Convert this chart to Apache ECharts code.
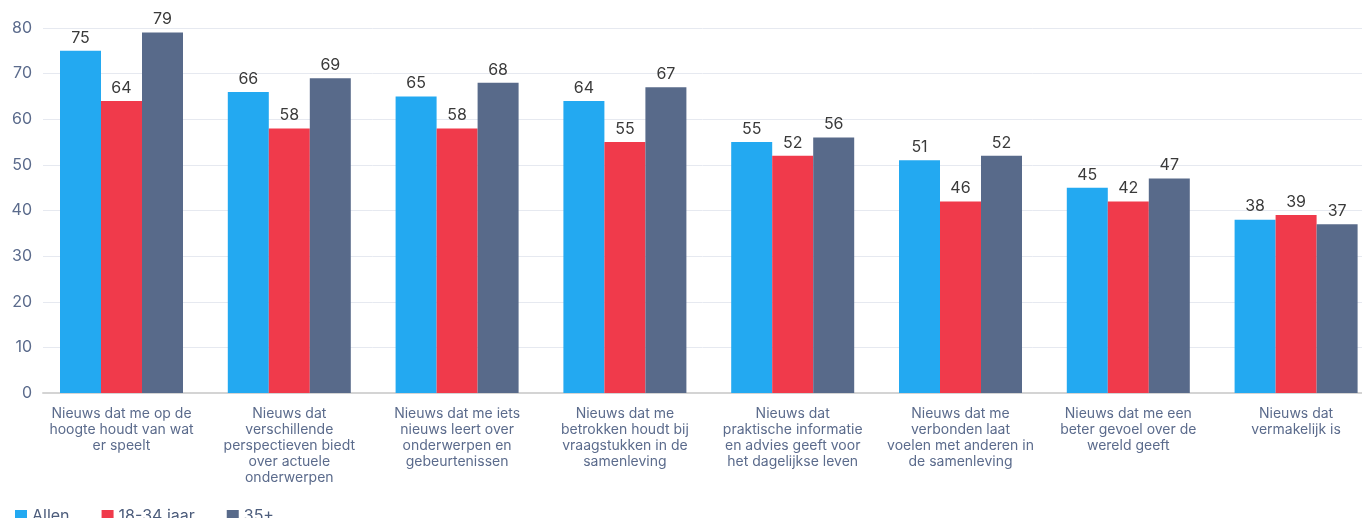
<!DOCTYPE html>
<html>
<head>
<meta charset="utf-8">
<script src="https://cdn.jsdelivr.net/npm/echarts@6/dist/echarts.min.js"></script>
<style>
html,body{margin:0;padding:0;background:#fff;}
#c{width:1362px;height:518px;}
</style>
</head>
<body>
<div id="c"></div>
<script>
const categories = [
  "Nieuws dat me op de\nhoogte houdt van wat\ner speelt",
  "Nieuws dat\nverschillende\nperspectieven biedt\nover actuele\nonderwerpen",
  "Nieuws dat me iets\nnieuws leert over\nonderwerpen en\ngebeurtenissen",
  "Nieuws dat me\nbetrokken houdt bij\nvraagstukken in de\nsamenleving",
  "Nieuws dat\npraktische informatie\nen advies geeft voor\nhet dagelijkse leven",
  "Nieuws dat me\nverbonden laat\nvoelen met anderen in\nde samenleving",
  "Nieuws dat me een\nbeter gevoel over de\nwereld geeft",
  "Nieuws dat\nvermakelijk is"
];
const seriesNames = ["Allen", "18-34 jaar", "35+"];
const allen = [75, 66, 65, 64, 55, 51, 45, 38];
const jong = [64, 58, 58, 55, 52, 42, 42, 39];        // bar heights as drawn
const jongLabels = [64, 58, 58, 55, 52, 46, 42, 39];  // printed labels
const oud = [79, 69, 68, 67, 56, 52, 47, 37];
const yTicks = [0, 10, 20, 30, 40, 50, 60, 70, 80];

const colors = ["#23a9f1", "#f03a4b", "#586a8a"];
const FONT = "Inter, 'Open Sans', sans-serif";

const chart = echarts.init(document.getElementById('c'), null, {renderer: 'canvas'});

function mkLabel(texts) {
  return {
    show: true, position: 'top', distance: 5,
    color: '#3a3a3a', fontSize: 16, fontFamily: FONT,
    formatter: p => texts ? String(texts[p.dataIndex]) : String(p.value)
  };
}

const option = {
  animation: false,
  color: colors,
  textStyle: {fontFamily: FONT},
  grid: [
    {left: 43, right: 0, top: 28, bottom: 125, outerBoundsMode: 'none', containLabel: false},
    {left: 37.6, width: 1342.4, top: 28, bottom: 125, outerBoundsMode: 'none', containLabel: false}
  ],
  legend: {
    left: 10, top: 503, itemWidth: 12, itemHeight: 12, itemGap: 32,
    icon: 'rect',
    textStyle: {color: '#4d5d7c', fontSize: 16, fontFamily: FONT},
    data: seriesNames
  },
  xAxis: [
    {gridIndex: 0, type: 'category', data: categories,
      axisLine: {show: true, lineStyle: {color: '#d4d4d4', width: 2}},
      axisTick: {show: false}, axisLabel: {show: false}},
    {gridIndex: 1, type: 'category', data: categories,
      axisLine: {show: false}, axisTick: {show: false},
      axisLabel: {color: '#5b6b8c', fontSize: 14, lineHeight: 16, margin: 13,
        fontFamily: FONT, interval: 0, align: 'center'}}
  ],
  yAxis: [
    {gridIndex: 0, type: 'value', min: yTicks[0], max: yTicks[yTicks.length-1], interval: 10,
      axisLine: {show: false}, axisTick: {show: false},
      axisLabel: {color: '#5b6b8c', fontSize: 16, margin: 11, fontFamily: FONT},
      splitLine: {lineStyle: {color: '#e6e9f0', width: 1}}},
    {gridIndex: 1, type: 'value', min: yTicks[0], max: yTicks[yTicks.length-1], interval: 10,
      show: false, splitLine: {show: false}}
  ],
  series: [
    {name: seriesNames[0], type: 'bar', xAxisIndex: 1, yAxisIndex: 1, data: allen,
      barWidth: 41, barGap: '0%', label: mkLabel(null)},
    {name: seriesNames[1], type: 'bar', xAxisIndex: 1, yAxisIndex: 1, data: jong,
      barWidth: 41, barGap: '0%', label: mkLabel(jongLabels)},
    {name: seriesNames[2], type: 'bar', xAxisIndex: 1, yAxisIndex: 1, data: oud,
      barWidth: 41, barGap: '0%', label: mkLabel(null)}
  ]
};
chart.setOption(option);
</script>
</body>
</html>
